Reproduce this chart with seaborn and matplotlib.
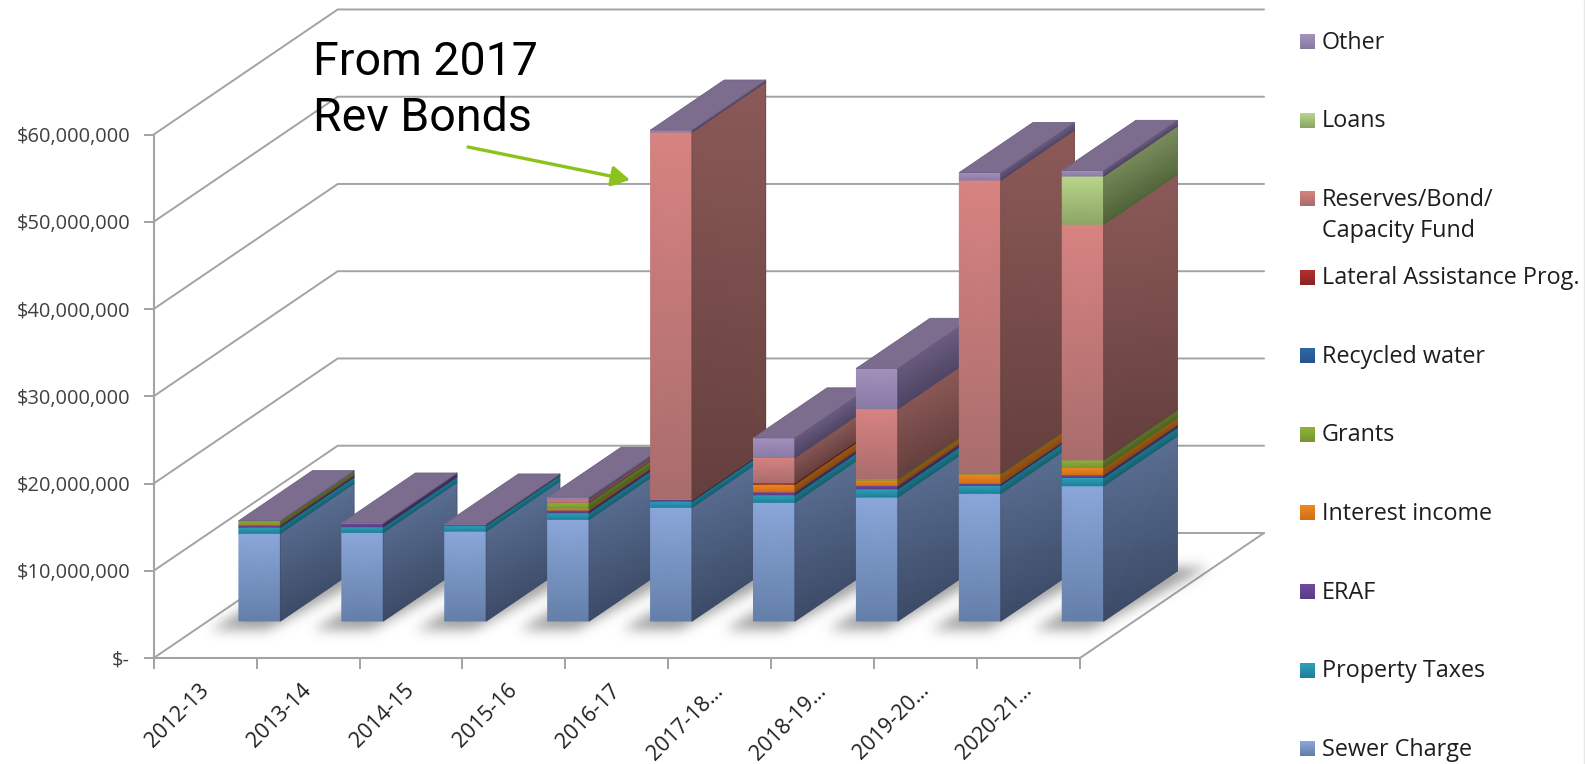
import numpy as np
import pandas as pd
import seaborn as sns
import matplotlib
matplotlib.use("Agg")
import matplotlib.pyplot as plt
from matplotlib.colors import LinearSegmentedColormap
from matplotlib.lines import Line2D
from matplotlib.patches import Polygon, FancyArrowPatch
from matplotlib.path import Path
from matplotlib.ticker import FixedLocator
from matplotlib.transforms import ScaledTranslation

categories = ["2012-13", "2013-14", "2014-15", "2015-16", "2016-17",
              "2017-18…", "2018-19…", "2019-20…", "2020-21…"]

# Revenue by source, in millions of dollars
sewer_charge = [10.05, 10.16, 10.30, 11.65, 13.03, 13.60, 14.20, 14.63, 15.50]
property_taxes = [0.72, 0.65, 0.69, 0.76, 0.72, 0.87, 0.95, 0.92, 0.96]
eraf = [0.25, 0.39, 0.10, 0.31, 0.20, 0.34, 0.39, 0.23, 0.30]
interest_income = [0.10, 0.00, 0.00, 0.20, 0.06, 0.88, 0.61, 1.07, 0.85]
recycled_water = [0, 0, 0, 0, 0, 0, 0, 0, 0]
lateral_assistance = [0, 0, 0, 0, 0, 0.15, 0, 0, 0]
grants = [0.35, 0.00, 0.00, 0.65, 0.00, 0.00, 0.15, 0.06, 0.84]
reserves_fund = [0.00, 0.00, 0.00, 0.39, 42.04, 2.90, 8.03, 33.64, 27.02]
loans = [0, 0, 0, 0, 0, 0, 0, 0, 5.53]
other = [0.03, 0.03, 0.03, 0.23, 0.22, 2.25, 4.63, 0.85, 0.65]

series_names = ["Sewer Charge", "Property Taxes", "ERAF", "Interest income", "Grants",
                "Recycled water", "Lateral Assistance Prog.",
                "Reserves/Bond/\nCapacity Fund", "Loans", "Other"]
series_values = [sewer_charge, property_taxes, eraf, interest_income, grants,
                 recycled_water, lateral_assistance, reserves_fund, loans, other]
stack_order = [0, 1, 2, 3, 6, 5, 4, 7, 8, 9]
legend_order = [9, 8, 7, 6, 5, 4, 3, 2, 1, 0]

# (front top, front bottom, side light, side dark)
series_colors = {
    "Sewer Charge": ("#8BA7DA", "#637EA8", "#5A6F93", "#3C4A66"),
    "Property Taxes": ("#2F9FBC", "#1F8099", "#1E7A8E", "#15606F"),
    "ERAF": ("#6E4C9E", "#5A3D85", "#46336A", "#3A2A58"),
    "Interest income": ("#F08722", "#D06F18", "#9C5A18", "#84490F"),
    "Recycled water": ("#2F66A8", "#25558E", "#204A78", "#193C62"),
    "Lateral Assistance Prog.": ("#B03030", "#8E2222", "#6E2020", "#581818"),
    "Grants": ("#8FB23E", "#76962F", "#5E7A2A", "#4A6220"),
    "Reserves/Bond/\nCapacity Fund": ("#D78381", "#A86C6C", "#8C5A58", "#643F3D"),
    "Loans": ("#B8D68A", "#8BA566", "#7C8E5E", "#4E6238"),
    "Other": ("#A391BE", "#8A7AA3", "#6B5E82", "#4E4362"),
}
top_face_color = "#7C6D8E"
line_gray = "#A3A3A3"

# Oblique projection: a point at depth 1 sits on the back wall
depth_dx = 1.788
depth_dy = 14.33
bar_depth = (0.296, 0.696)
bar_width = 0.403
y_ticks = [0, 10, 20, 30, 40, 50, 60]
y_tick_labels = ["$-", "$10,000,000", "$20,000,000", "$30,000,000",
                 "$40,000,000", "$50,000,000", "$60,000,000"]

W, H = 1585, 764
sns.set_theme(style="white")
plt.rcParams["font.family"] = ["Open Sans", "DejaVu Sans"]

fig = plt.figure(figsize=(W / 100, H / 100), dpi=100, facecolor="white")
left_px, right_px, bottom_px, top_px = 153.7, 1080.0, 658.0, 134.5
ax = fig.add_axes([left_px / W, 1 - bottom_px / H, (right_px - left_px) / W, (bottom_px - top_px) / H])
ax.patch.set_alpha(0)


def project(x, y, d):
    return x + d * depth_dx, y + d * depth_dy


positions = np.arange(len(categories))
table = pd.DataFrame(dict(zip(series_names, series_values)), index=categories)
cumulative = np.zeros(len(categories))
segments = []
for idx in stack_order:
    name = series_names[idx]
    vals = table[name].to_numpy(dtype=float)
    if vals.sum() > 0:
        before = len(ax.patches)
        sns.barplot(x=positions, y=vals, bottom=cumulative, width=bar_width, native_scale=True,
                    color=series_colors[name][0], saturation=1, ax=ax, linewidth=0)
        for i, patch in enumerate(ax.patches[before:]):
            segments.append((i, name, patch))
    cumulative = cumulative + vals
totals = cumulative

x_min, x_max = -0.5, len(categories) - 0.5
ax.set_xlim(x_min, x_max)
ax.set_ylim(0, 60)


def gradient_mesh(xs, ys, values, colors, z):
    cmap = LinearSegmentedColormap.from_list("face", colors)
    return ax.pcolormesh(xs, ys, values, shading="gouraud", cmap=cmap, vmin=0, vmax=1,
                         zorder=z, clip_on=False)


for order, (i, name, patch) in enumerate(segments):
    h = patch.get_height()
    if h <= 0:
        patch.set_visible(False)
        continue
    c_top, c_bot, s_light, s_dark = series_colors[name]
    z = 10 + i + order * 0.001
    x0, x1 = patch.get_x(), patch.get_x() + patch.get_width()
    y0, y1 = patch.get_y(), patch.get_y() + h
    fx0, fy0 = project(x0, y0, bar_depth[0])
    fx1, fy1 = project(x1, y1, bar_depth[0])
    # front face: the bar drawn by seaborn, moved to its depth, with a vertical shade on it
    patch.set_x(fx0)
    patch.set_y(fy0)
    patch.set_zorder(z)
    patch.set_clip_on(False)
    gradient_mesh(np.array([[fx0, fx1], [fx0, fx1]]), np.array([[fy0, fy0], [fy1, fy1]]),
                  np.array([[1.0, 1.0], [0.0, 0.0]]), [c_top, c_bot], z + 0.0001)
    # side face
    bx, by0 = project(x1, y0, bar_depth[1])
    bx, by1 = project(x1, y1, bar_depth[1])
    gradient_mesh(np.array([[fx1, bx], [fx1, bx]]), np.array([[fy0, by0], [fy1, by1]]),
                  np.array([[1.0, 0.85], [0.15, 0.0]]), [s_light, s_dark], z + 0.0002)
    ax.add_patch(Polygon([(fx1, fy0), (bx, by0), (bx, by1), (fx1, fy1)], closed=True, fill=False,
                         edgecolor=s_dark, lw=0.5, alpha=0.6, zorder=z + 0.0003, clip_on=False))

# top cap of every stack
for i, total in enumerate(totals):
    x0, x1 = i - bar_width / 2, i + bar_width / 2
    corners = [project(x0, total, bar_depth[0]), project(x1, total, bar_depth[0]),
               project(x1, total, bar_depth[1]), project(x0, total, bar_depth[1])]
    ax.add_patch(Polygon(corners, closed=True, facecolor=top_face_color, edgecolor="#6F6182",
                         lw=0.6, zorder=10.9 + i, clip_on=False))

# back wall and side wall gridlines
for v in y_ticks:
    gx, gy = project(x_min, v, 1.0)
    ex, ey = project(x_max, v, 1.0)
    ax.plot([x_min, gx, ex], [v, gy, ey], color=line_gray, lw=1.4, zorder=0.5, clip_on=False,
            solid_joinstyle="miter")
fx, fy = project(x_max, 0, 1.0)
ax.plot([x_max, fx], [0, fy], color=line_gray, lw=1.4, zorder=0.5, clip_on=False)

# soft floor shadow: reaches left at the front and widens to the right towards the back
res_x, res_y = 103, 8.725
nx = int((x_max + depth_dx + 0.3 - x_min) * res_x)
ny = int((depth_dy + 5) * res_y)
gx = np.linspace(x_min - 0.3, x_max + depth_dx, nx)
gy = np.linspace(-3, depth_dy + 2, ny)
XX, YY = np.meshgrid(gx, gy)
points = np.column_stack([XX.ravel(), YY.ravel()])
mask = np.zeros(XX.shape)
front_spread, back_spread, left_shift, right_flare = 0.07, 0.03, 0.15, 0.25
for i in range(len(categories)):
    x0, x1 = i - bar_width / 2, i + bar_width / 2
    poly = Path([project(x0 - left_shift, 0, bar_depth[0] - front_spread),
                 project(x1, 0, bar_depth[0] - front_spread),
                 project(x1 + right_flare, 0, bar_depth[1] + back_spread),
                 project(x0, 0, bar_depth[1] + back_spread)])
    mask = np.maximum(mask, poly.contains_points(points).reshape(XX.shape).astype(float))
sigma = 6.0
radius = np.arange(-18, 19)
kernel = np.exp(-radius ** 2 / (2 * sigma ** 2))
kernel /= kernel.sum()
mask = np.apply_along_axis(lambda r: np.convolve(r, kernel, mode="same"), 1, mask)
mask = np.apply_along_axis(lambda r: np.convolve(r, kernel, mode="same"), 0, mask)
rgba = np.zeros(XX.shape + (4,))
rgba[..., :3] = 0.45
rgba[..., 3] = mask * 0.68
ax.imshow(rgba, extent=(gx[0], gx[-1], gy[0], gy[-1]), origin="lower", aspect="auto",
          zorder=1, clip_on=False, interpolation="bilinear")
ax.set_xlim(x_min, x_max)
ax.set_ylim(0, 60)

# axes, ticks and labels
sns.despine(ax=ax)
for side in ("left", "bottom"):
    ax.spines[side].set_color(line_gray)
    ax.spines[side].set_linewidth(1.5)
ax.set_yticks(y_ticks)
ax.set_yticklabels(y_tick_labels, fontsize=14.4, color="#404040")
ax.tick_params(axis="y", which="major", left=True, length=7, width=1.4, color=line_gray, pad=10)
ax.set_xticks(positions)
ax.set_xticklabels(categories, rotation=45, ha="right", va="top", rotation_mode="anchor",
                   fontsize=15.5, color="#202020")
ax.xaxis.set_minor_locator(FixedLocator(np.arange(x_min, x_max + 1)))
ax.tick_params(axis="x", which="major", bottom=False, length=0, pad=16)
ax.tick_params(axis="x", which="minor", bottom=True, length=8, width=1.4, color=line_gray)
label_nudge = ScaledTranslation(-7 / 100, 0, fig.dpi_scale_trans)
for label in ax.get_xticklabels():
    label.set_transform(label.get_transform() + label_nudge)
ax.set_xlabel("")
ax.set_ylabel("")
ax.grid(False)

# overlay in pixel units for the legend and the callout
over = fig.add_axes([0, 0, 1, 1], zorder=5)
over.axis("off")
over.patch.set_alpha(0)

legend_top, legend_step, swatch = 41.7, 78.55, 15
for pos, idx in enumerate(legend_order):
    name = series_names[idx]
    cy = legend_top + pos * legend_step
    c_top, c_bot = series_colors[name][:2]
    cmap = LinearSegmentedColormap.from_list("swatch", [c_top, c_bot])
    over.imshow(np.linspace(0, 1, 16)[:, None], cmap=cmap, aspect="auto",
                extent=(1300, 1300 + swatch, cy + swatch / 2, cy - swatch / 2), zorder=2)
    over.text(1322, cy - 11, name, fontsize=16.85, color="#1E1E1E", va="top", ha="left", linespacing=1.4)
over.set_xlim(0, W)
over.set_ylim(H, 0)

over.text(313, 40, "From 2017\nRev Bonds", fontsize=33.5, color="black", va="top", ha="left",
          linespacing=1.34, family=["Roboto", "DejaVu Sans"])
over.add_patch(FancyArrowPatch((468, 147), (630, 180), arrowstyle="-|>,head_length=0.5,head_width=0.28",
                               mutation_scale=22, color="#8CC21C", lw=2.4, shrinkA=0, shrinkB=0))
fig.add_artist(Line2D([1 - 0.7 / W, 1 - 0.7 / W], [0, 1], color="#E8E8E8", lw=1))

fig.savefig("out.png", dpi=100, facecolor="white")
